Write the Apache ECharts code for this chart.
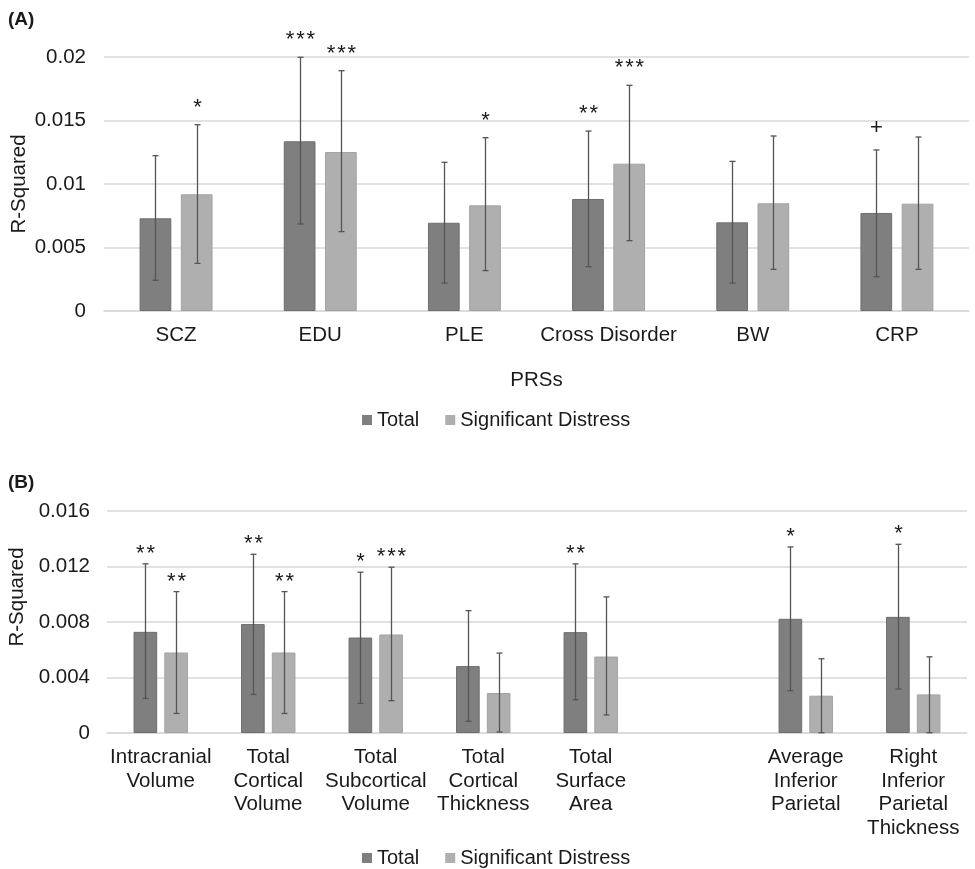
<!DOCTYPE html>
<html>
<head>
<meta charset="utf-8">
<script src="https://cdn.jsdelivr.net/npm/echarts@6/dist/echarts.min.js"></script>
<style>
html,body{margin:0;padding:0;background:#fff;}
#chart{width:975px;height:869px;}
</style>
</head>
<body>
<div id="chart"></div>
<script>
// ---- Panel A data ----
const catA = ['SCZ', 'EDU', 'PLE', 'Cross Disorder', 'BW', 'CRP'];
const totalA = [0.0073, 0.01336, 0.00695, 0.00882, 0.00698, 0.00772];
const totalALow = [0.00242, 0.00685, 0.0022, 0.00349, 0.0022, 0.0027];
const totalAHigh = [0.01223, 0.01998, 0.01171, 0.01417, 0.01178, 0.01268];
const sigA = [0.00919, 0.01252, 0.00832, 0.0116, 0.00848, 0.00845];
const sigALow = [0.00375, 0.00625, 0.00318, 0.00554, 0.00328, 0.00328];
const sigAHigh = [0.01467, 0.01892, 0.01365, 0.01777, 0.01378, 0.0137];
const totalAMarks = ['', '***', '', '**', '', '+'];
const sigAMarks = ['*', '***', '*', '***', '', ''];
const yTicksA = [0, 0.005, 0.01, 0.015, 0.02];

// ---- Panel B data ----
const catB = ['Intracranial\nVolume', 'Total\nCortical\nVolume', 'Total\nSubcortical\nVolume',
  'Total\nCortical\nThickness', 'Total\nSurface\nArea', '', 'Average\nInferior\nParietal',
  'Right\nInferior\nParietal\nThickness'];
const totalB = [0.00729, 0.00785, 0.00688, 0.00482, 0.00727, null, 0.00823, 0.00837];
const totalBLow = [0.00249, 0.00278, 0.00213, 0.00084, 0.0024, null, 0.00305, 0.00317];
const totalBHigh = [0.01219, 0.01288, 0.01159, 0.00882, 0.01219, null, 0.01341, 0.0136];
const sigB = [0.0058, 0.0058, 0.0071, 0.00288, 0.00551, null, 0.00269, 0.00278];
const sigBLow = [0.00141, 0.00141, 0.00233, 0.00007, 0.0013, null, 0.00002, 0.00002];
const sigBHigh = [0.01019, 0.01019, 0.01195, 0.00576, 0.00981, null, 0.00535, 0.00549];
const totalBMarks = ['**', '**', '*', '', '**', '', '*', '*'];
const sigBMarks = ['**', '**', '***', '', '', '', '', ''];
const yTicksB = [0, 0.004, 0.008, 0.012, 0.016];

const FONT = 'Liberation Sans, Arial, sans-serif';
const TXT = '#1a1a1a';
const DARK = '#7f7f7f';
const LIGHT = '#afafaf';
const BAR_W = 0.22, BAR_GAP = 0.30;

function errSeries(name, gi, lows, highs, marks, side, markOffset) {
  const data = lows.map((l, i) => [i, l, highs[i]]);
  return {
    type: 'custom', name: name, xAxisIndex: gi, yAxisIndex: gi, z: 5, silent: true,
    encode: { x: 0, y: [1, 2] },
    data: data,
    renderItem: function (params, api) {
      const i = api.value(0), lo = api.value(1), hi = api.value(2);
      if (lo == null || isNaN(lo) || hi == null || isNaN(hi)) return null;
      const band = api.size([1, 0])[0];
      const w = band * BAR_W, g = w * BAR_GAP;
      const dx = side * (w + g) / 2;
      const pLo = api.coord([i, lo]), pHi = api.coord([i, hi]);
      const x = Math.round(pLo[0] + dx) + 0.5;
      const cap = 3;
      const st = { stroke: '#555555', lineWidth: 1.3 };
      const children = [
        { type: 'line', shape: { x1: x, y1: pLo[1], x2: x, y2: pHi[1] }, style: st },
        { type: 'line', shape: { x1: x - cap, y1: pLo[1], x2: x + cap, y2: pLo[1] }, style: st },
        { type: 'line', shape: { x1: x - cap, y1: pHi[1], x2: x + cap, y2: pHi[1] }, style: st }
      ];
      const m = marks[params.dataIndex];
      if (m) {
        const isPlus = m === '+';
        children.push({
          type: 'text',
          style: {
            text: isPlus ? m : m.split('').join('\u200A'),
            x: x, y: pHi[1] - markOffset + (isPlus ? -5 : 0),
            align: 'center', verticalAlign: 'middle',
            fontSize: 22, fontFamily: FONT, fill: TXT
          }
        });
      }
      return { type: 'group', children: children };
    }
  };
}

function barSeries(name, gi, vals, color, border) {
  return {
    type: 'bar', name: name, xAxisIndex: gi, yAxisIndex: gi,
    data: vals, barWidth: (BAR_W * 100) + '%', barGap: (BAR_GAP * 100) + '%',
    itemStyle: { color: color, borderColor: border, borderWidth: 1 },
    emphasis: { disabled: true }, animation: false
  };
}

const yLabelFmt = v => {
  if (v === 0) return '0';
  return String(parseFloat(v.toPrecision(6)));
};

const legendBase = {
  data: [
    { name: 'Total', itemStyle: { color: DARK, borderWidth: 0 } },
    { name: 'Significant Distress', itemStyle: { color: LIGHT, borderWidth: 0 } }
  ],
  left: 357, icon: 'rect', itemWidth: 10, itemHeight: 10,
  itemGap: 26, textStyle: { fontSize: 20, color: TXT, fontFamily: FONT }, selectedMode: false
};

const chart = echarts.init(document.getElementById('chart'));
chart.setOption({
  animation: false,
  backgroundColor: '#ffffff',
  textStyle: { fontFamily: FONT },
  title: [
    { text: '(A)', left: 3, top: 5, textStyle: { fontSize: 19, fontWeight: 'bold', color: TXT, fontFamily: FONT } },
    { text: '(B)', left: 3, top: 468, textStyle: { fontSize: 19, fontWeight: 'bold', color: TXT, fontFamily: FONT } }
  ],
  legend: [
    Object.assign({}, legendBase, { top: 405 }),
    Object.assign({}, legendBase, { top: 843 })
  ],
  grid: [
    { left: 104, right: 6, top: 57, height: 254, containLabel: false, outerBoundsMode: 'none' },
    { left: 107, right: 8, top: 511, height: 222, containLabel: false, outerBoundsMode: 'none' }
  ],
  xAxis: [
    { type: 'category', gridIndex: 0, data: catA,
      name: 'PRSs', nameLocation: 'middle', nameGap: 59, nameMoveOverlap: false,
      nameTextStyle: { fontSize: 20.5, color: TXT, fontFamily: FONT },
      axisLine: { lineStyle: { color: '#d9d9d9', width: 1.5 } }, axisTick: { show: false },
      axisLabel: { fontSize: 20.5, color: TXT, margin: 14, fontFamily: FONT, interval: 0 } },
    { type: 'category', gridIndex: 1, data: catB,
      axisLine: { lineStyle: { color: '#d9d9d9', width: 1.5 } }, axisTick: { show: false },
      axisLabel: { fontSize: 20.5, color: TXT, margin: 13, lineHeight: 23.5, fontFamily: FONT, interval: 0 } }
  ],
  yAxis: [
    { type: 'value', gridIndex: 0, min: yTicksA[0], max: yTicksA[yTicksA.length - 1], interval: yTicksA[1] - yTicksA[0],
      name: 'R-Squared', nameLocation: 'middle', nameGap: 74, nameMoveOverlap: false,
      nameTextStyle: { fontSize: 20.5, color: TXT, fontFamily: FONT },
      axisLine: { show: false }, axisTick: { show: false },
      axisLabel: { fontSize: 20.5, color: TXT, margin: 18, fontFamily: FONT, formatter: yLabelFmt },
      splitLine: { lineStyle: { color: '#d9d9d9', width: 1.5 } } },
    { type: 'value', gridIndex: 1, min: yTicksB[0], max: yTicksB[yTicksB.length - 1], interval: yTicksB[1] - yTicksB[0],
      name: 'R-Squared', nameLocation: 'middle', nameGap: 79, nameMoveOverlap: false,
      nameTextStyle: { fontSize: 20.5, color: TXT, fontFamily: FONT, padding: [0, 0, 0, 50] },
      axisLine: { show: false }, axisTick: { show: false },
      axisLabel: { fontSize: 20.5, color: TXT, margin: 17, fontFamily: FONT, formatter: yLabelFmt },
      splitLine: { lineStyle: { color: '#d9d9d9', width: 1.5 } } }
  ],
  series: [
    barSeries('Total', 0, totalA, DARK, '#6e6e6e'),
    barSeries('Significant Distress', 0, sigA, LIGHT, '#a3a3a3'),
    barSeries('Total', 1, totalB, DARK, '#6e6e6e'),
    barSeries('Significant Distress', 1, sigB, LIGHT, '#a3a3a3'),
    errSeries('errTotalA', 0, totalALow, totalAHigh, totalAMarks, -1, 17),
    errSeries('errSigA', 0, sigALow, sigAHigh, sigAMarks, 1, 17),
    errSeries('errTotalB', 1, totalBLow, totalBHigh, totalBMarks, -1, 10),
    errSeries('errSigB', 1, sigBLow, sigBHigh, sigBMarks, 1, 10)
  ]
});
</script>
</body>
</html>
